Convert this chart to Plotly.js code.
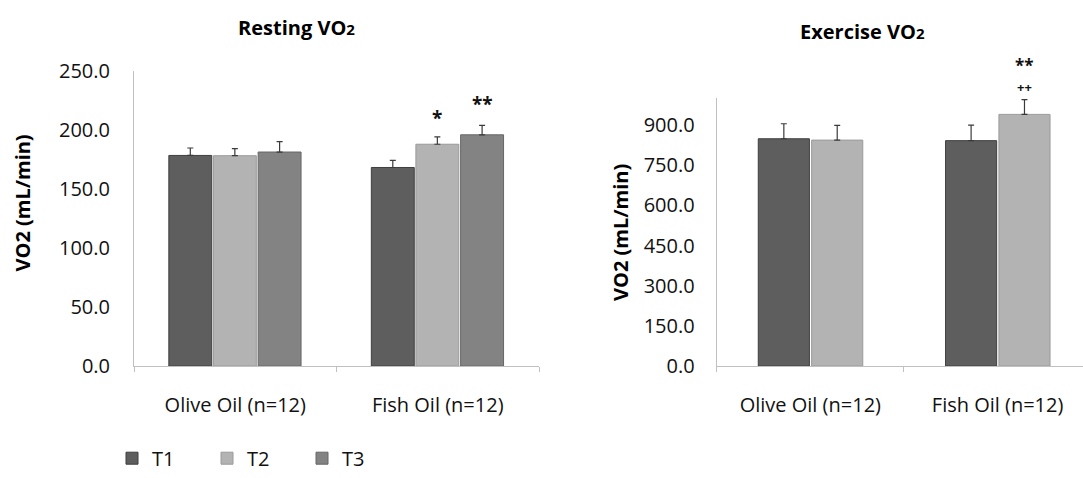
<!DOCTYPE html>
<html>
<head>
<meta charset="utf-8">
<script src="https://cdn.plot.ly/plotly-3.0.1.min.js"></script>
<style>html,body{margin:0;padding:0;background:#fff;}#chart{width:1083px;height:478px;}</style>
</head>
<body>
<div id="chart"></div>
<script>
// ---- data ----
const groups = ["Olive Oil (n=12)", "Fish Oil (n=12)"];
const seriesNames = ["T1", "T2", "T3"];

const restT1 = [178.5, 168.3];
const restT2 = [178.3, 188.0];
const restT3 = [181.4, 196.0];
const restErrT1 = [6.3, 6.1];
const restErrT2 = [6.0, 6.2];
const restErrT3 = [8.8, 8.0];

const exT1 = [849, 842];
const exT2 = [844, 940];
const exErrT1 = [56, 58];
const exErrT2 = [55, 55];

const restTicks = [0, 50, 100, 150, 200, 250];
const exTicks = [0, 150, 300, 450, 600, 750, 900];

const restSig = ["", "*", "**"];      // significance marks over Fish Oil T1..T3 (resting)
const exSig = ["**", "++"];           // marks over Fish Oil T2 (exercise)

// ---- styling ----
const colors = ["#5e5e5e", "#b3b3b3", "#838383"];
const edge = ["#3f3f3f", "#9a9a9a", "#666666"];
const font = "Open Sans, Noto Sans, sans-serif";
const FS = 20;

function barTrace(name, i, y, err, xa, ya, width, offset, showlegend) {
  return {
    type: "bar", name: name, x: groups, y: y,
    xaxis: xa, yaxis: ya, width: width, offset: offset,
    marker: {color: colors[i], line: {color: edge[i], width: 1}},
    error_y: {type: "data", symmetric: false, array: err, arrayminus: err.map(() => 0),
              color: "#3a3a3a", thickness: 1.2, width: 3},
    showlegend: showlegend, legendgroup: name, cliponaxis: false
  };
}

const restVals = [restT1, restT2, restT3];
const restErrs = [restErrT1, restErrT2, restErrT3];
const restOffsets = [-0.328, -0.108, 0.113];
const exVals = [exT1, exT2];
const exErrs = [exErrT1, exErrT2];
const exOffsets = [-0.278, 0.007];

const traces = [];
seriesNames.forEach((n, i) => traces.push(barTrace(n, i, restVals[i], restErrs[i], "x", "y", 0.212, restOffsets[i], true)));
exVals.forEach((v, i) => traces.push(barTrace(seriesNames[i], i, v, exErrs[i], "x2", "y2", 0.273, exOffsets[i], false)));

const axisCommon = {
  showgrid: false, zeroline: false, showline: true, linecolor: "#c0c0c0", linewidth: 1,
  tickfont: {family: font, size: FS, color: "#111"}, fixedrange: true
};

const y1Dom = [1 - 372.3/478, 1 - 72.3/478];
const y2Dom = [1 - 372.3/478, 1 - 100/478];
const y2Range = [0, 1000];
const toPaper2 = v => y2Dom[0] + (v - y2Range[0]) / (y2Range[1] - y2Range[0]) * (y2Dom[1] - y2Dom[0]);

const annotations = [
  {text: "<b>Resting VO<span style='font-size:15px'>2</span></b>", xref: "paper", yref: "paper",
   x: 296/1083, y: 1 - 28/478, xanchor: "center", yanchor: "middle", showarrow: false,
   font: {family: font, size: FS, color: "#000"}},
  {text: "<b>Exercise VO<span style='font-size:15px'>2</span></b>", xref: "paper", yref: "paper",
   x: 862/1083, y: 1 - 32/478, xanchor: "center", yanchor: "middle", showarrow: false,
   font: {family: font, size: FS, color: "#000"}},
  {text: "<b>VO2 (mL/min)</b>", xref: "paper", yref: "paper", x: 23/1083, y: 1 - 207/478,
   xanchor: "center", yanchor: "middle", textangle: -90, showarrow: false,
   font: {family: font, size: FS, color: "#000"}},
  {text: "<b>VO2 (mL/min)</b>", xref: "paper", yref: "paper", x: 620/1083, y: 1 - 237/478,
   xanchor: "center", yanchor: "middle", textangle: -90, showarrow: false,
   font: {family: font, size: FS, color: "#000"}}
];
// significance marks placed above the bars
const restPad = [0, 16, 18];
restSig.forEach((s, i) => {
  if (!s) return;
  annotations.push({text: "<b>" + s + "</b>", xref: "x", yref: "y",
    x: 1 + restOffsets[i] + 0.106, y: restVals[i][1] + restErrs[i][1] + restPad[i],
    xanchor: "center", yanchor: "middle",
    showarrow: false, font: {family: font, size: 19, color: "#111"}});
});
const exSigX = 1 + exOffsets[1] + 0.136;
annotations.push({text: "<b>" + exSig[0] + "</b>", xref: "x2", yref: "paper",
  x: exSigX, y: toPaper2(exT2[1] + exErrT2[1] + 128), xanchor: "center", yanchor: "middle",
  showarrow: false, font: {family: font, size: 17, color: "#111"}});
annotations.push({text: "<b>" + exSig[1] + "</b>", xref: "x2", yref: "paper",
  x: exSigX, y: toPaper2(exT2[1] + exErrT2[1] + 47), xanchor: "center", yanchor: "middle",
  showarrow: false, font: {family: font, size: 13, color: "#111"}});

const layout = {
  width: 1083, height: 478,
  margin: {l: 0, r: 0, t: 0, b: 0},
  paper_bgcolor: "#fff", plot_bgcolor: "#fff",
  barmode: "overlay",
  showlegend: true,
  legend: {orientation: "h", x: 112/1083, xanchor: "left", y: 1 - 466/478, yanchor: "middle",
           entrywidth: 50, entrywidthmode: "pixels", font: {family: font, size: FS, color: "#111"},
           itemclick: false, itemdoubleclick: false},
  xaxis: Object.assign({}, axisCommon, {domain: [134/1083, 539/1083], type: "category",
          range: [-0.5, 1.5], ticks: "outside", tickson: "boundaries", ticklen: 5, tickcolor: "#c0c0c0",
          ticklabelstandoff: 21, anchor: "y"}),
  yaxis: Object.assign({}, axisCommon, {domain: y1Dom, range: [0, 250],
          tickvals: restTicks, ticktext: restTicks.map(v => v.toFixed(1)), ticks: "", ticklabelstandoff: 19, anchor: "x"}),
  xaxis2: Object.assign({}, axisCommon, {domain: [716.7/1083, 1], type: "category",
          range: [-0.5, 1.456], ticks: "outside", tickson: "boundaries", ticklen: 5, tickcolor: "#c0c0c0",
          ticklabelstandoff: 21, anchor: "y2"}),
  yaxis2: Object.assign({}, axisCommon, {domain: y2Dom, range: y2Range,
          tickvals: exTicks, ticktext: exTicks.map(v => v.toFixed(1)), ticks: "", ticklabelstandoff: 17, anchor: "x2"}),
  annotations: annotations
};

Plotly.newPlot("chart", traces, layout, {displayModeBar: false, staticPlot: true});
</script>
</body>
</html>
